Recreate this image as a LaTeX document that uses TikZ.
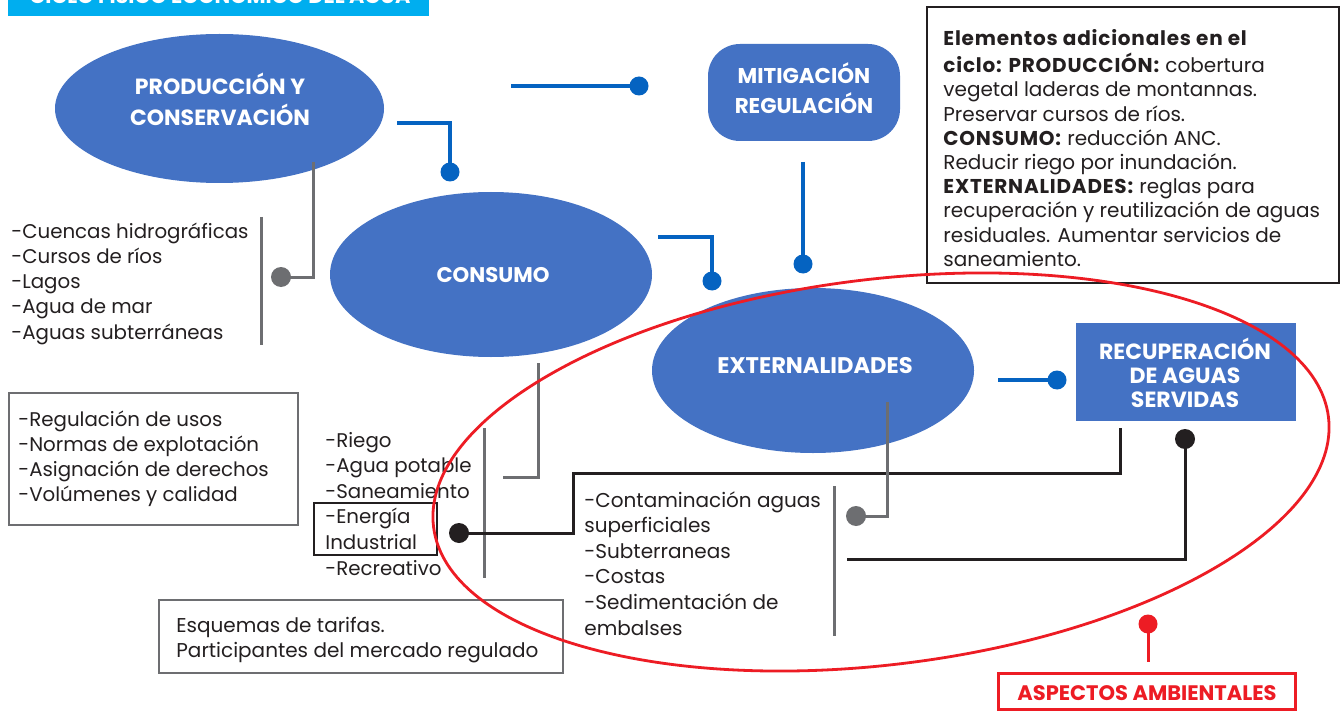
\documentclass[tikz,border=0pt]{standalone}
\usepackage{fontspec}
\setmainfont{Poppins}
\usetikzlibrary{shapes.geometric}
\definecolor{ellblue}{HTML}{4472C4}
\definecolor{lnblue}{HTML}{0563C1}
\definecolor{grl}{HTML}{6D6E71}
\definecolor{blk}{HTML}{231F20}
\definecolor{rdl}{HTML}{ED1C24}
\definecolor{cyanh}{HTML}{00AEEF}
\newcommand\rowsL[1]{\begin{tabular}[t]{@{}l@{}}#1\end{tabular}}
\newcommand\rowsC[1]{\begin{tabular}[t]{@{}c@{}}#1\end{tabular}}
\newcommand\bwide[1]{\textbf{\addfontfeature{LetterSpace=4}#1}}
\tikzset{
  ell/.style={ellipse, fill=ellblue, inner sep=0pt},
  bluebox/.style={rectangle, fill=ellblue, inner sep=0pt},
  txt/.style={inner sep=0pt, text=blk, font=\fontsize{9.8}{12.7}\selectfont},
  lab/.style={inner sep=0pt, text=white, font=\fontsize{11}{14.5}\selectfont\bfseries},
  lnb/.style={draw=lnblue, line width=2.25pt},
  lng/.style={draw=grl, line width=1.5pt},
  lnk/.style={draw=blk, line width=1.5pt},
  dotb/.style={circle, fill=lnblue, inner sep=0pt, minimum size=9.5pt},
  dotg/.style={circle, fill=grl, inner sep=0pt, minimum size=10pt},
  dotk/.style={circle, fill=blk, inner sep=0pt, minimum size=10pt},
  dotr/.style={circle, fill=rdl, inner sep=0pt, minimum size=9.5pt},
  graybox/.style={rectangle, draw=grl, line width=1.4pt, inner sep=0pt},
  blackbox/.style={rectangle, draw=blk, line width=1.4pt, inner sep=0pt},
}
\begin{document}
\begin{tikzpicture}[x=0.5pt,y=-0.5pt]
\useasboundingbox (0,0) rectangle (1342,711);
\clip (0,0) rectangle (1342,711);
\fill[white] (0,0) rectangle (1342,711);

% header
\fill[cyanh] (8,-20) rectangle (429,16);
\node[lab, anchor=base, font=\fontsize{10.4}{12}\selectfont\bfseries] (title) at (220,4) {CICLO FÍSICO ECONÓMICO DEL AGUA};

% main shapes
\node[ell, minimum width=164.5pt, minimum height=74.5pt] (prod) at (219.5,108.5) {};
\node[ell, minimum width=161pt, minimum height=82.5pt] (cons) at (491,274.5) {};
\node[ell, minimum width=161pt, minimum height=82.5pt] (ext) at (813,370.5) {};
\node[bluebox, rounded corners=16pt, minimum width=96pt, minimum height=48.5pt] (mitig) at (804,92.5) {};
\node[bluebox, minimum width=110pt, minimum height=49pt] (recup) at (1186,372) {};

\node[lab, anchor=base] (prodt) at (220,95) {\rowsC{PRODUCCIÓN Y\\CONSERVACIÓN}};
\node[lab, anchor=base, font=\fontsize{10.7}{14}\selectfont\bfseries] (mitigt) at (804,84) {\rowsC{MITIGACIÓN\\REGULACIÓN}};
\node[lab, anchor=base, font=\fontsize{10.6}{12}\selectfont\bfseries] (const) at (493,282) {CONSUMO};
\node[lab, anchor=base, font=\fontsize{11.3}{12}\selectfont\bfseries] (extt) at (815,373) {EXTERNALIDADES};
\node[lab, anchor=base, font=\fontsize{11}{12}\selectfont\bfseries] (recupt) at (1185,359) {\rowsC{RECUPERACIÓN\\DE AGUAS\\SERVIDAS}};

% boxes
\node[graybox, minimum width=144.5pt, minimum height=66pt] (regbox) at (153.5,459) {};
\node[graybox, minimum width=202pt, minimum height=36.5pt] (esqbox) at (361,636.5) {};
\node[blackbox, minimum width=206pt, minimum height=138pt] (elembox) at (1133,145) {};
\node[blackbox, minimum width=61.5pt, minimum height=26pt] (enbox) at (375.5,529) {};
\draw[draw=rdl, line width=1.5pt] (998,673) rectangle (1295,709.5);
\coordinate (aspbox) at (1146.5,673);

% texts
\node[txt, anchor=base west, font=\fontsize{9.9}{12.65}\selectfont] (srcs) at (11,238)
  {\rowsL{-Cuencas hidrográficas\\-Cursos de ríos\\-Lagos\\-Agua de mar\\-Aguas subterráneas}};
\node[txt, anchor=base west, font=\fontsize{9.9}{12.65}\selectfont] (regt) at (18,426)
  {\rowsL{-Regulación de usos\\-Normas de explotación\\-Asignación de derechos\\-Volúmenes y calidad}};
\node[txt, anchor=base west, font=\fontsize{9.9}{12.8}\selectfont] (usos) at (325,447)
  {\rowsL{-Riego\\-Agua potable\\-Saneamiento\\-Energía\\Industrial\\-Recreativo}};
\node[txt, anchor=base west, font=\fontsize{10}{12.8}\selectfont] (cont) at (584,507)
  {\rowsL{-Contaminación aguas\\superficiales\\-Subterraneas\\-Costas\\-Sedimentación de\\embalses}};
\node[txt, anchor=base west, font=\fontsize{10}{12.5}\selectfont] (esqt) at (176,632)
  {\rowsL{Esquemas de tarifas.\\Participantes del mercado regulado}};
\node[txt, anchor=base west, font=\fontsize{10}{12.1}\selectfont] (elemt) at (943,46)
  {\rowsL{\bwide{Elementos adicionales en el}\\
  \bwide{ciclo: PRODUCCIÓN:} cobertura\\
  vegetal laderas de montannas.\\
  Preservar cursos de ríos.\\
  \bwide{CONSUMO:} reducción ANC.\\
  Reducir riego por inundación.\\
  \bwide{EXTERNALIDADES:} reglas para\\
  recuperación y reutilización de aguas\\
  residuales. Aumentar servicios de\\
  saneamiento.}};
\node[lab, anchor=base, text=rdl, font=\fontsize{10.5}{12}\selectfont\bfseries] (aspt) at (1147,700) {ASPECTOS AMBIENTALES};

% gray bars
\draw[lng] (261,217) -- (261,345);
\draw[lng] (484,428) -- (484,578);
\draw[lng] (834,486) -- (834,636);

% black connectors
\node[dotk] (kd1) at (459,533) {};
\node[dotk] (kd2) at (1185,439) {};
\coordinate (k1e) at (1120,428);
\coordinate (k2e) at (847,559);
\draw[lnk] (kd1.center) -| (573,473) -| (k1e);
\draw[lnk] (kd2.center) |- (k2e);

% gray connectors
\coordinate (g1s) at (313,162);
\node[dotg] (gd1) at (281,277) {};
\draw[lng] (g1s) |- (gd1.center);
\coordinate (g2s) at (538,363);
\coordinate (g2e) at (503,477);
\draw[lng] (g2s) |- (g2e);
\coordinate (g3s) at (887,402);
\node[dotg] (gd3) at (856,516) {};
\draw[lng] (g3s) |- (gd3.center);

% blue connectors
\coordinate (b1s) at (397,123);
\node[dotb] (bd1) at (450,172) {};
\draw[lnb] (b1s) -| (bd1.center);
\coordinate (b2s) at (511,86);
\node[dotb] (bd2) at (639,86) {};
\draw[lnb] (b2s) -- (bd2.center);
\coordinate (b3s) at (658,237);
\node[dotb] (bd3) at (712,281) {};
\draw[lnb] (b3s) -| (bd3.center);
\coordinate (b4s) at (803,162);
\node[dotb] (bd4) at (803,264) {};
\draw[lnb] (b4s) -- (bd4.center);
\coordinate (b5s) at (998,380);
\node[dotb] (bd5) at (1057,380) {};
\draw[lnb] (b5s) -- (bd5.center);

% red environmental ellipse
\draw[draw=rdl, line width=1.4pt, rotate around={7:(881,472)}] (881,472) ellipse [x radius=225.4pt, y radius=96.35pt];
\node[dotr] (rd1) at (1148,624) {};
\coordinate (rde) at (1148,662);
\draw[draw=rdl, line width=1.5pt] (rd1.center) -- (rde);
\end{tikzpicture}
\end{document}
